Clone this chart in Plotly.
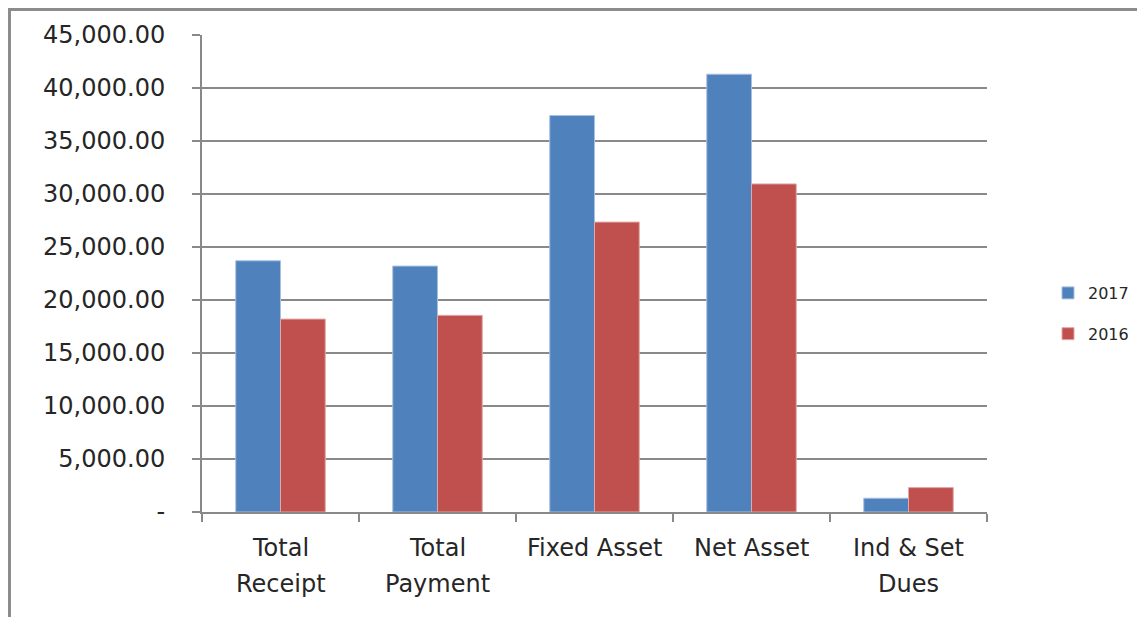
import plotly.graph_objects as go

categories = ["Total Receipt", "Total Payment", "Fixed Asset", "Net Asset", "Ind & Set Dues"]
category_lines = [["Total", "Receipt"], ["Total", "Payment"], ["Fixed Asset"], ["Net Asset"], ["Ind & Set", "Dues"]]
values_2017 = [23700, 23200, 37400, 41300, 1300]
values_2016 = [18200, 18550, 27350, 30950, 2300]
y_tickvals = [0, 5000, 10000, 15000, 20000, 25000, 30000, 35000, 40000, 45000]
y_ticktext = ["-", "5,000.00", "10,000.00", "15,000.00", "20,000.00", "25,000.00",
              "30,000.00", "35,000.00", "40,000.00", "45,000.00"]

# page has an 8px body margin, so the figure is offset by 8px
W, H = 1137, 609
L, R, T, B = 194, 158, 27, 105
pw = W - L - R
ph = H - T - B
bottom = H - B

fig = go.Figure()
fig.add_trace(go.Bar(name="2017", x=categories, y=values_2017, legendgroup="a",
                     marker=dict(color="#4F81BD", line=dict(color="#A7C0E0", width=1))))
fig.add_trace(go.Bar(name="2016", x=categories, y=values_2016, legendgroup="b",
                     marker=dict(color="#C0504D", line=dict(color="#E0A8A6", width=1))))

grid = "#898989"
font = "DejaVu Sans"
txt = "#262626"
fig.update_layout(
    width=W, height=H,
    margin=dict(l=L, r=R, t=T, b=B, autoexpand=False),
    paper_bgcolor="white", plot_bgcolor="white",
    barmode="group", bargap=0.43, bargroupgap=0,
    font=dict(family=font, color=txt, size=24),
    legend=dict(x=(1040 - L) / pw, y=(bottom - 268) / ph, xanchor="left", yanchor="top",
                font=dict(size=16, color=txt, family=font), itemwidth=30, tracegroupgap=17,
                bgcolor="rgba(0,0,0,0)"),
    xaxis=dict(showline=True, linecolor=grid, linewidth=2, ticks="outside",
               tickson="boundaries", ticklen=8, tickwidth=2, tickcolor=grid,
               showticklabels=False, showgrid=False),
    yaxis=dict(range=[0, 45000], tickvals=y_tickvals, ticktext=y_ticktext,
               showline=True, linecolor=grid, linewidth=2, ticks="outside",
               ticklen=8, tickwidth=2, tickcolor=grid, showgrid=True,
               gridcolor=grid, gridwidth=2, zeroline=False, ticklabelstandoff=22,
               tickfont=dict(size=24, family=font, color=txt)),
)

# category labels, one annotation per line for Excel-like line spacing
for cat, lines in zip(categories, category_lines):
    for i, line in enumerate(lines):
        fig.add_annotation(x=cat, xref="x", yref="paper",
                           y=(bottom - (540 + 36 * i)) / ph, yanchor="middle",
                           text=line, showarrow=False,
                           font=dict(size=24, family=font, color=txt))

# outer chart border (left and top edges)
fig.add_shape(type="line", xref="paper", yref="paper",
              x0=(1.5 - L) / pw, x1=(1.5 - L) / pw, y0=(bottom - H - 5) / ph, y1=(bottom - 1.5) / ph,
              line=dict(color="#8C8C8C", width=3))
fig.add_shape(type="line", xref="paper", yref="paper",
              x0=(0 - L) / pw, x1=(W + 5 - L) / pw, y0=(bottom - 1.5) / ph, y1=(bottom - 1.5) / ph,
              line=dict(color="#8C8C8C", width=3))

fig.write_html("out.html")
